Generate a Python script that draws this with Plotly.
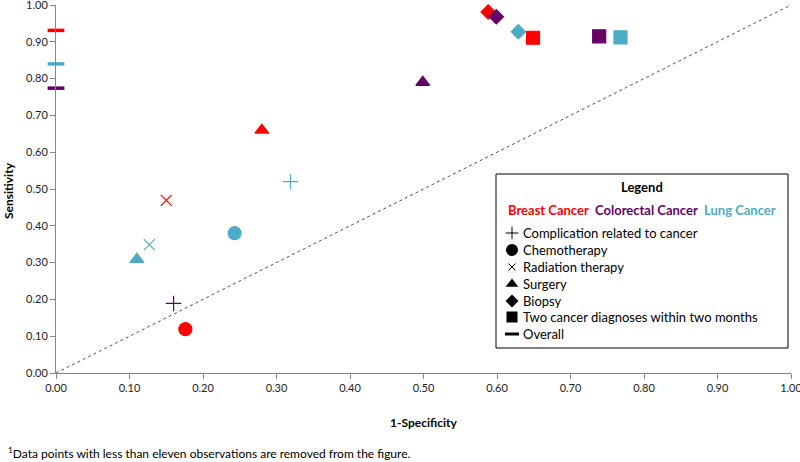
import plotly.graph_objects as go

# ---- data ----
measures = ["Complication related to cancer", "Chemotherapy", "Radiation therapy",
            "Surgery", "Biopsy", "Two cancer diagnoses within two months"]
symbols = {"Complication related to cancer": "cross-thin", "Chemotherapy": "circle",
           "Radiation therapy": "x-thin", "Surgery": "triangle-up", "Biopsy": "diamond",
           "Two cancer diagnoses within two months": "square"}

breast_measures = ["Chemotherapy", "Radiation therapy", "Surgery", "Biopsy",
                   "Two cancer diagnoses within two months"]
breast_x = [0.176, 0.150, 0.280, 0.588, 0.649]
breast_y = [0.119, 0.469, 0.660, 0.981, 0.911]
breast_overall = 0.931

colorectal_measures = ["Complication related to cancer", "Surgery", "Biopsy",
                       "Two cancer diagnoses within two months"]
colorectal_x = [0.160, 0.499, 0.599, 0.739]
colorectal_y = [0.189, 0.790, 0.968, 0.915]
colorectal_overall = 0.774

lung_measures = ["Complication related to cancer", "Chemotherapy", "Radiation therapy",
                 "Surgery", "Biopsy", "Two cancer diagnoses within two months"]
lung_x = [0.319, 0.243, 0.127, 0.110, 0.629, 0.768]
lung_y = [0.520, 0.380, 0.349, 0.309, 0.927, 0.912]
lung_overall = 0.840

x_ticks = [0.0, 0.1, 0.2, 0.3, 0.4, 0.5, 0.6, 0.7, 0.8, 0.9, 1.0]
y_ticks = [0.0, 0.1, 0.2, 0.3, 0.4, 0.5, 0.6, 0.7, 0.8, 0.9, 1.0]

RED = "#FF0000"
PURPLE = "#660066"
TEAL = "#4BACC6"
FONT = "Lato, 'Open Sans', sans-serif"

sizes = {"cross-thin": 11, "circle": 13, "x-thin": 11, "triangle-up": 12,
         "diamond": 11, "square": 13}

fig = go.Figure()

# diagonal reference line
fig.add_trace(go.Scatter(x=[0, 1], y=[0, 1], mode="lines",
                         line=dict(color="#555555", width=1, dash="dot"),
                         hoverinfo="skip", showlegend=False))

def add_group(ms, xs, ys, color, overall, name):
    syms = [symbols[m] for m in ms]
    fig.add_trace(go.Scatter(
        x=xs, y=ys, mode="markers", name=name, showlegend=False,
        text=ms,
        marker=dict(symbol=syms, color=color, size=[sizes[s] for s in syms],
                    opacity=1, line=dict(color=color, width=1.2)),
        cliponaxis=False))
    fig.add_trace(go.Scatter(
        x=[0], y=[overall], mode="markers", name=name + " overall", showlegend=False,
        marker=dict(symbol="line-ew", size=12, opacity=1, line=dict(color=color, width=3.5)),
        cliponaxis=False))

add_group(breast_measures, breast_x, breast_y, RED, breast_overall, "Breast Cancer")
add_group(colorectal_measures, colorectal_x, colorectal_y, PURPLE, colorectal_overall, "Colorectal Cancer")
add_group(lung_measures, lung_x, lung_y, TEAL, lung_overall, "Lung Cancer")

# ---- custom legend box (pixel -> paper helpers) ----
def px(xp):
    return (xp - 56) / 735.0

def py(yp):
    return (373 - yp) / 368.0

fig.add_shape(type="rect", xref="paper", yref="paper",
              x0=px(496), x1=px(788), y0=py(348), y1=py(174),
              line=dict(color="#000000", width=1), fillcolor="white", layer="below")

fig.add_annotation(xref="paper", yref="paper", x=px(642), y=py(187), text="<b>Legend</b>",
                   showarrow=False, font=dict(family=FONT, size=13, color="black"),
                   xanchor="center", yanchor="middle")
for label, color, xc in [("Breast Cancer", RED, 548), ("Colorectal Cancer", PURPLE, 646),
                         ("Lung Cancer", TEAL, 740)]:
    fig.add_annotation(xref="paper", yref="paper", x=px(xc), y=py(210),
                       text="<b>" + label + "</b>", showarrow=False,
                       font=dict(family=FONT, size=13, color=color),
                       xanchor="center", yanchor="middle")

legend_items = measures + ["Overall"]
legend_syms = [symbols[m] for m in measures] + ["line-ew"]
legend_rows = [233, 250, 267, 284, 301, 317, 334]
for item, sym, row in zip(legend_items, legend_syms, legend_rows):
    fig.add_annotation(xref="paper", yref="paper", x=px(521), y=py(row), text=item,
                       showarrow=False, font=dict(family=FONT, size=13, color="black"),
                       xanchor="left", yanchor="middle")
fig.add_trace(go.Scatter(
    x=[px(512)] * len(legend_rows), y=[py(r) for r in legend_rows], mode="markers",
    showlegend=False, hoverinfo="skip",
    marker=dict(symbol=legend_syms, color="black", opacity=1,
                size=[9, 12, 7, 11, 10, 11, 10],
                line=dict(color="black", width=[1, 0, 1, 0, 0, 0, 3]))))

fig.add_annotation(xref="paper", yref="paper", x=px(6), y=py(453),
                   text="<sup>1</sup>Data points with less than eleven observations are removed from the figure.",
                   showarrow=False, font=dict(family=FONT, size=12, color="black"),
                   xanchor="left", yanchor="middle")

# axis titles
fig.add_annotation(xref="paper", yref="paper", x=px(423), y=py(422), text="<b>1-Specificity</b>",
                   showarrow=False, font=dict(family=FONT, size=12, color="black"),
                   xanchor="center", yanchor="middle")
fig.add_annotation(xref="paper", yref="paper", x=px(8), y=py(190), text="<b>Sensitivity</b>",
                   showarrow=False, textangle=-90, font=dict(family=FONT, size=12, color="black"),
                   xanchor="center", yanchor="middle")

axis_common = dict(showgrid=False, zeroline=False, showline=True, linecolor="#868686",
                   linewidth=1, ticks="outside", ticklen=5, tickcolor="#868686",
                   automargin=False, ticklabeloverflow="allow",
                   tickformat=".2f", tickfont=dict(family=FONT, size=11, color="#222222"))

fig.update_layout(
    width=800, height=462,
    margin=dict(l=56, r=9, t=5, b=89, autoexpand=False),
    paper_bgcolor="white", plot_bgcolor="white",
    showlegend=False,
    font=dict(family=FONT),
    xaxis=dict(range=[0, 1], tickvals=x_ticks, **axis_common),
    yaxis=dict(range=[0, 1], tickvals=y_ticks, **axis_common),
)

fig.write_html("out.html", config={"displayModeBar": False},
               post_script="document.body.style.margin='0';")
